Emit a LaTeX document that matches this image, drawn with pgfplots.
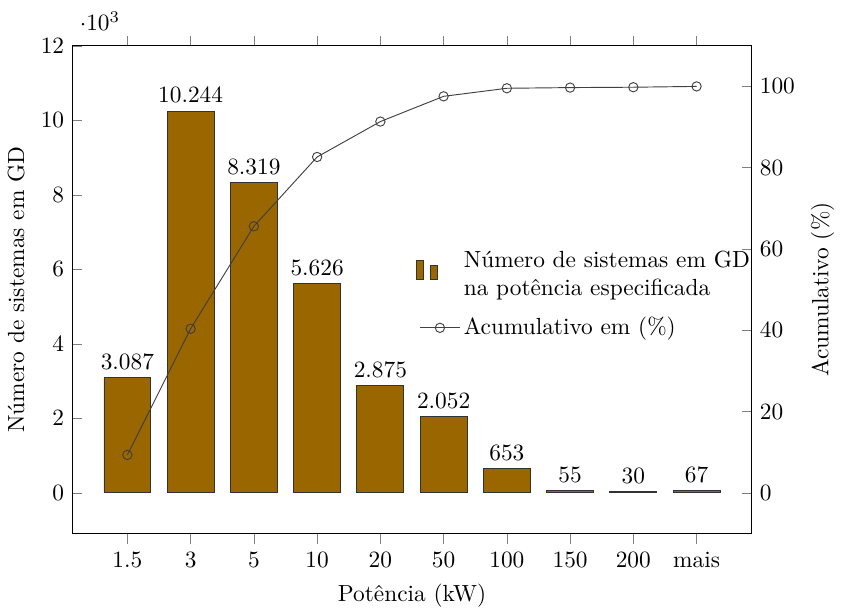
\documentclass[border=0pt]{standalone}
\usepackage{pgfplots}
\pgfplotsset{compat=1.18}
\definecolor{barbrown}{RGB}{153,102,0}
\begin{document}
\begin{tikzpicture}
\begin{axis}[
  scale only axis, width=291pt, height=209pt,
  xmin=-0.87, xmax=9.87,
  ymin=-1090.9, ymax=12000,
  xtick={0,...,9},
  xticklabels={1.5,3,5,10,20,50,100,150,200,mais},
  xtick align=outside,
  ytick={0,2000,...,12000}, ytick pos=left, ytick align=inside,
  scaled y ticks=base 10:-3,
  /pgf/number format/1000 sep={.},
  xlabel={Potência (kW)},
  ylabel={Número de sistemas em GD},
]
\addplot[ybar, bar width=0.74, fill=barbrown, draw=black!80,
  nodes near coords, nodes near coords align={vertical},
  nodes near coords style={black}]
  coordinates {(0,3087) (1,10244) (2,8319) (3,5626) (4,2875) (5,2052) (6,653) (7,55) (8,30) (9,67)};
\end{axis}
\begin{axis}[
  scale only axis, width=291pt, height=209pt,
  xmin=-0.87, xmax=9.87,
  ymin=-10, ymax=110,
  axis y line*=right, axis x line=none,
  ytick={0,20,...,100}, ytick align=inside,
  ylabel={Acumulativo (\%)},
  legend style={draw=none, fill=none, at={(0.495,0.6)}, anchor=north west,
    cells={align=left}, row sep=4pt, nodes={inner xsep=1.5pt}},
  legend cell align=left,
]
\addlegendimage{ybar, ybar legend, fill=barbrown, draw=black!80}
\addlegendentry{Número de sistemas em GD\\na potência especificada}
\addplot[color=black!75, mark=o, mark options={fill=white}]
  coordinates {(0,9.35) (1,40.39) (2,65.59) (3,82.64) (4,91.35) (5,97.56) (6,99.54) (7,99.71) (8,99.80) (9,100)};
\addlegendentry{Acumulativo em (\%)}
\end{axis}
\path (current bounding box.north) ++(0,5pt) coordinate (topext);
\path (topext);
\end{tikzpicture}
\end{document}
